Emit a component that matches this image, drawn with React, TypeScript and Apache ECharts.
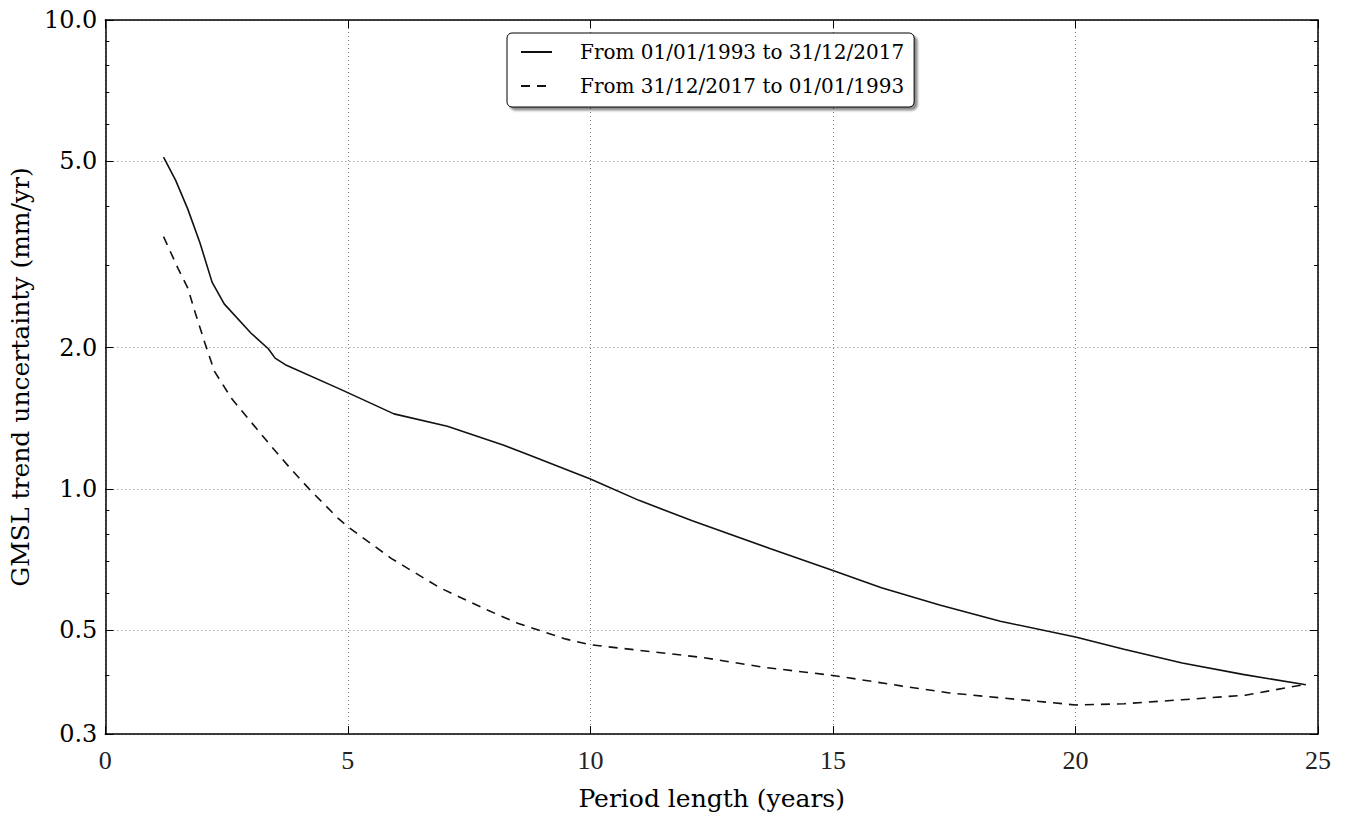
import React, { useEffect, useRef } from "react";
import * as echarts from "echarts";

// Period length (years) and GMSL trend uncertainty (mm/yr)
const solidPeriod = [1.2, 1.45, 1.7, 1.95, 2.2, 2.45, 3.0, 3.36, 3.5, 3.71, 4.85, 5.95, 7.05, 8.2, 8.75, 10.0, 11.0, 12.1, 13.7, 15.0, 16.0, 17.2, 18.45, 20.0, 21.0, 22.2, 23.45, 24.75];
const solidUncertainty = [5.1, 4.55, 3.95, 3.35, 2.76, 2.48, 2.15, 1.99, 1.9, 1.84, 1.63, 1.445, 1.36, 1.24, 1.18, 1.05, 0.945, 0.855, 0.746, 0.67, 0.615, 0.565, 0.522, 0.483, 0.455, 0.425, 0.402, 0.382];

const dashedPeriod = [1.2, 1.5, 1.7, 1.85, 2.05, 2.25, 2.6, 3.0, 3.4, 3.8, 4.2, 4.8, 5.0, 5.9, 6.9, 7.5, 7.9, 8.5, 9.0, 9.5, 10.0, 12.3, 13.6, 15.0, 16.4, 17.4, 18.5, 20.0, 21.0, 22.2, 23.5, 24.75];
const dashedUncertainty = [3.45, 2.95, 2.68, 2.38, 2.05, 1.78, 1.56, 1.39, 1.24, 1.11, 1.0, 0.865, 0.83, 0.71, 0.615, 0.575, 0.55, 0.517, 0.497, 0.478, 0.465, 0.437, 0.416, 0.4, 0.38, 0.367, 0.358, 0.346, 0.348, 0.355, 0.363, 0.383];

const seriesNames = ["From 01/01/1993 to 31/12/2017", "From 31/12/2017 to 01/01/1993"];

const yMajorTicks = [0.3, 0.5, 1, 2, 5, 10];
const yMajorLabels = ["0.3", "0.5", "1.0", "2.0", "5.0", "10.0"];
const yMinorTicks = [0.4, 0.6, 0.7, 0.8, 0.9, 3, 4, 6, 7, 8, 9];

const xMin = 0;
const xMax = 25;
const xInterval = 5;
const yMin = 0.3;
const yMax = 10;

const FONT = "DejaVu Serif";

export default function App() {
  const ref = useRef<HTMLDivElement>(null);

  useEffect(() => {
    if (!ref.current) return;
    const chart = echarts.init(ref.current, undefined, { renderer: "svg" });
    const lg = (v: number) => Math.log10(v);
    const majorLog = yMajorTicks.map(lg);
    const minorLog = yMinorTicks.map(lg);
    const yLabel = (v: number) => {
      const i = majorLog.findIndex((t) => Math.abs(t - v) < 1e-6);
      return i >= 0 ? yMajorLabels[i] : "";
    };

    const axisLine = { show: true, onZero: false, lineStyle: { color: "#000", width: 1.5 } };
    const gridLine = { show: true, lineStyle: { color: "#808080", width: 1, type: [1, 3] as any } };

    const yBase = {
      type: "value",
      min: lg(yMin),
      max: lg(yMax),
      axisLine,
    };

    const option: any = {
      animation: false,
      backgroundColor: "#fff",
      grid: { left: 105, right: 28, top: 20, bottom: 80, containLabel: false },
      legend: {
        orient: "vertical",
        left: 507,
        top: 33,
        data: seriesNames,
        itemWidth: 31,
        itemHeight: 14,
        itemGap: 14,
        padding: [9, 10, 11, 13],
        backgroundColor: "#fff",
        borderColor: "#000",
        borderWidth: 1,
        borderRadius: 5,
        shadowColor: "rgba(0,0,0,0.45)",
        shadowOffsetX: 3,
        shadowOffsetY: 3,
        shadowBlur: 2,
        itemStyle: { opacity: 0 },
        textStyle: { fontFamily: FONT, fontSize: 20, color: "#000", padding: [0, 0, 0, 23] },
      },
      xAxis: [
        {
          type: "value",
          position: "bottom",
          min: xMin,
          max: xMax,
          interval: xInterval,
          axisLine,
          axisTick: { show: true, inside: true, length: 8, lineStyle: { color: "#000", width: 1 } },
          axisLabel: { show: true, margin: 13, fontFamily: "Liberation Serif", fontSize: 26, color: "#222" },
          splitLine: gridLine,
          name: "Period length (years)",
          nameLocation: "middle",
          nameGap: 52,
          nameTextStyle: { fontFamily: FONT, fontSize: 25, color: "#000" },
        },
        {
          type: "value",
          position: "top",
          min: xMin,
          max: xMax,
          interval: xInterval,
          axisLine,
          axisTick: { show: true, inside: true, length: 8, lineStyle: { color: "#000", width: 1 } },
          axisLabel: { show: false },
          splitLine: { show: false },
        },
      ],
      yAxis: [
        {
          ...yBase,
          position: "left",
          axisTick: { show: true, inside: true, length: 8, customValues: majorLog, lineStyle: { color: "#000", width: 1 } },
          axisLabel: {
            show: true,
            customValues: majorLog,
            formatter: yLabel,
            margin: 8,
            fontFamily: FONT,
            fontSize: 24,
            color: "#000",
          },
          splitLine: gridLine,
          name: "GMSL trend uncertainty (mm/yr)",
          nameLocation: "middle",
          nameGap: 72,
          nameTextStyle: { fontFamily: FONT, fontSize: 25, color: "#000" },
        },
        {
          ...yBase,
          position: "right",
          axisTick: { show: true, inside: true, length: 8, customValues: majorLog, lineStyle: { color: "#000", width: 1 } },
          axisLabel: { show: false, customValues: majorLog },
          splitLine: { show: false },
        },
        {
          ...yBase,
          position: "left",
          axisLine: { show: false, onZero: false },
          axisTick: { show: true, inside: true, length: 4, customValues: minorLog, lineStyle: { color: "#000", width: 1 } },
          axisLabel: { show: false, customValues: minorLog },
          splitLine: { show: false },
        },
        {
          ...yBase,
          position: "right",
          axisLine: { show: false, onZero: false },
          axisTick: { show: true, inside: true, length: 4, customValues: minorLog, lineStyle: { color: "#000", width: 1 } },
          axisLabel: { show: false, customValues: minorLog },
          splitLine: { show: false },
        },
      ],
      series: [
        {
          name: seriesNames[0],
          type: "line",
          xAxisIndex: 0,
          yAxisIndex: 0,
          symbol: "none",
          showSymbol: false,
          lineStyle: { color: "#111", width: 1.6, type: "solid" },
          itemStyle: { color: "#111" },
          data: solidPeriod.map((x, i) => [x, lg(solidUncertainty[i])]),
        },
        {
          name: seriesNames[1],
          type: "line",
          xAxisIndex: 0,
          yAxisIndex: 0,
          symbol: "none",
          showSymbol: false,
          lineStyle: { color: "#111", width: 1.6, type: [9, 7] },
          itemStyle: { color: "#111" },
          data: dashedPeriod.map((x, i) => [x, lg(dashedUncertainty[i])]),
        },
      ],
    };

    chart.setOption(option);
    return () => chart.dispose();
  }, []);

  return (
    <div
      ref={ref}
      style={{ position: "fixed", left: 0, top: 0, width: 1346, height: 816, background: "#fff" }}
    />
  );
}
